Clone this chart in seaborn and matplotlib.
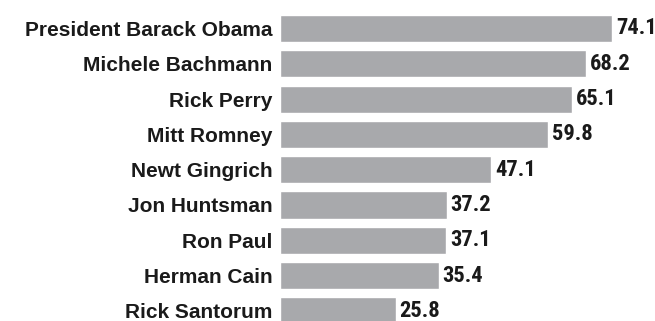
import pandas as pd
import seaborn as sns
import matplotlib.pyplot as plt

# ==================== DATA ====================
candidates = ["President Barack Obama", "Michele Bachmann", "Rick Perry",
              "Mitt Romney", "Newt Gingrich", "Jon Huntsman", "Ron Paul",
              "Herman Cain", "Rick Santorum"]
scores = [74.1, 68.2, 65.1, 59.8, 47.1, 37.2, 37.1, 35.4, 25.8]

BAR_COLOR = "#a8a9ac"
TEXT_COLOR = "#1a1a1a"

df = pd.DataFrame({"candidate": candidates, "score": scores})

# ==================== PLOT ====================
sns.set_style("white")
fig = plt.figure(figsize=(6.55, 3.21), dpi=100)
ax = fig.add_axes([280 / 655, 0, 375 / 655, 1])

sns.barplot(data=df, y="candidate", x="score", orient="h",
            color=BAR_COLOR, width=0.77, saturation=1, ax=ax)

ax.set_xlim(0, 375 / 4.48)
ax.set_ylim((321 - 28.5) / 35.3, -28.5 / 35.3)

for c in ax.containers:
    ax.bar_label(c, fmt="%.1f", padding=2.8, color=TEXT_COLOR,
                 fontsize=16.2, fontweight="bold",
                 family=["Roboto Condensed", "DejaVu Sans"])

ax.set_xlabel("")
ax.set_ylabel("")
ax.set_xticks([])
ax.tick_params(axis="y", length=0, pad=5.5)
for lbl in ax.get_yticklabels():
    lbl.set_fontfamily(["Liberation Sans", "DejaVu Sans"])
    lbl.set_fontweight("bold")
    lbl.set_fontsize(15)
    lbl.set_color(TEXT_COLOR)
sns.despine(ax=ax, left=True, bottom=True)

fig.savefig("out.png", dpi=100)
plt.close(fig)
